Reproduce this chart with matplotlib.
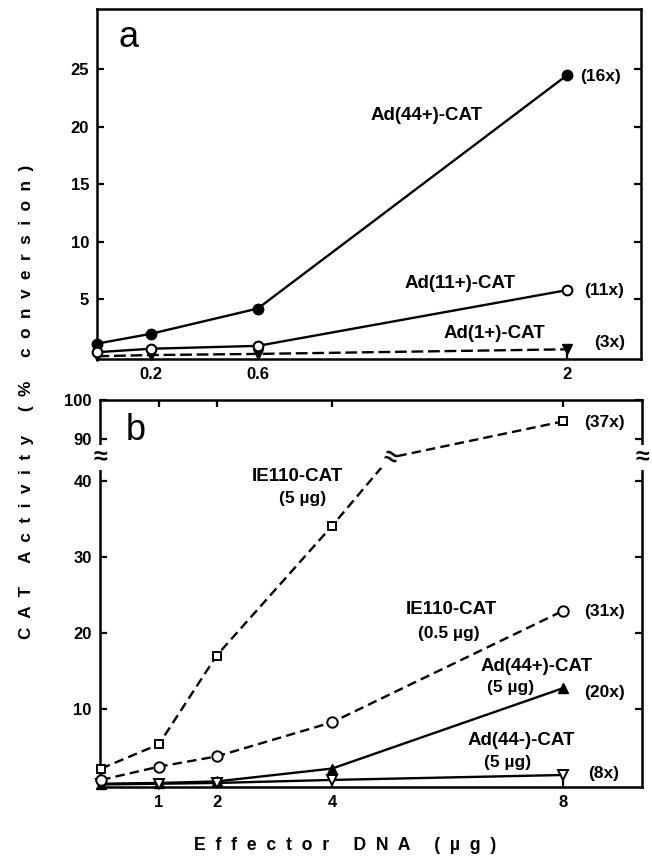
import numpy as np
import matplotlib
matplotlib.use("Agg")
import matplotlib.pyplot as plt

plt.rcParams['font.family'] = ['Liberation Sans', 'DejaVu Sans']
plt.rcParams['font.weight'] = 'bold'

# --- panel a: effector DNA (ug) vs % conversion ---
dose_a = [0, 0.2, 0.6, 2]
ad44p_a = [1.15, 2.0, 4.2, 24.5]
ad11p_a = [0.4, 0.7, 0.95, 5.8]
ad1p_a = [0.05, 0.15, 0.25, 0.65]
fold_a = ["(16x)", "(11x)", "(3x)"]

# --- panel b ---
dose_b = [0, 1, 2, 4, 8]
ie110_5 = [2.1, 5.3, 17.0, 34.1, 94.4]
ie110_05 = [0.6, 2.35, 3.7, 8.2, 22.9]
ad44p_b = [0.1, 0.2, 0.4, 2.1, 12.7]
ad44m_b = [0.0, 0.1, 0.2, 0.6, 1.25]
fold_b = ["(37x)", "(31x)", "(20x)", "(8x)"]

ticks_a_x = [0.2, 0.6, 2]
ticks_a_y = [5, 10, 15, 20, 25]
ticks_b_x = [1, 2, 4, 8]
ticks_b_y = [10, 20, 30, 40, 90, 100]

# axis break in panel b (y between lo and hi is skipped, top part compressed)
lo, hi, k = 43.1, 85.1, 0.514
break_x = 5.0

# panel a x axis is stretched differently after 0.6
K = 0.8265


def fwd_a(x):
    x = np.asarray(x, float)
    return np.where(x <= 0.6, x, 0.6 + (x - 0.6) * K)


def inv_a(t):
    t = np.asarray(t, float)
    return np.where(t <= 0.6, t, 0.6 + (t - 0.6) / K)


def fwd_b(y):
    y = np.asarray(y, float)
    return np.where(y <= lo, y, np.where(y >= hi, lo + (y - hi) * k, lo))


def inv_b(t):
    t = np.asarray(t, float)
    return np.where(t <= lo, t, hi + (t - lo) / k)


fig = plt.figure(figsize=(6.52, 8.57), dpi=100)
ax_a = fig.add_axes([0.1495, 0.581, 0.8336, 0.409])
ax_b = fig.add_axes([0.1534, 0.0817, 0.8313, 0.452])

lw = 1.7
for ax in (ax_a, ax_b):
    for s in ax.spines.values():
        s.set_linewidth(1.8)
    ax.tick_params(direction='in', length=5, width=1.6, labelsize=12,
                   pad=6, right=True)

# --- panel a ---
ax_a.set_xscale('function', functions=(fwd_a, inv_a))
ax_a.plot(dose_a, ad44p_a, '-', color='k', lw=lw, marker='o', ms=7.5,
          mfc='k', mec='k', clip_on=False, zorder=3)
ax_a.plot(dose_a, ad11p_a, '-', color='k', lw=lw, marker='o', ms=7,
          mfc='white', mec='k', mew=1.5, clip_on=False, zorder=4)
ax_a.plot(dose_a, ad1p_a, color='k', lw=lw, ls=(0, (5, 2)), marker='v',
          ms=7, mfc='k', mec='k', clip_on=False, zorder=2)
ax_a.set_xlim(0, 2.335)
ax_a.set_ylim(-0.2, 30.3)
ax_a.set_xticks(ticks_a_x)
ax_a.set_xticklabels([str(t) for t in ticks_a_x])
ax_a.set_yticks(ticks_a_y)
ax_a.minorticks_off()

ax_a.text(0.058, 0.917, "a", transform=ax_a.transAxes, fontsize=26,
          fontweight='normal', ha='center', va='center')
ax_a.text(0.606, 0.696, "Ad(44+)-CAT", transform=ax_a.transAxes,
          fontsize=13.5, ha='center', va='center')
ax_a.text(0.667, 0.217, "Ad(11+)-CAT", transform=ax_a.transAxes,
          fontsize=13.5, ha='center', va='center')
ax_a.text(0.731, 0.074, "Ad(1+)-CAT", transform=ax_a.transAxes,
          fontsize=13.5, ha='center', va='center')
for (fx, fy), lab in zip([(0.888, 0.807), (0.895, 0.197), (0.914, 0.048)], fold_a):
    ax_a.text(fx, fy, lab, transform=ax_a.transAxes, fontsize=12.5,
              ha='left', va='center')

# --- panel b ---
ax_b.set_yscale('function', functions=(fwd_b, inv_b))
dash = (0, (4, 2.2))
# IE110 5ug line goes through the break
line_x = np.insert(np.array(dose_b, float), 4, [break_x, break_x])
line_y = np.insert(np.array(ie110_5, float), 4, [lo, hi])
ax_b.plot(line_x, line_y, color='k', lw=lw, ls=dash, zorder=2)
ax_b.plot(dose_b, ie110_5, ls='none', marker='s', ms=6, mfc='white',
          mec='k', mew=1.4, clip_on=False, zorder=4)
ax_b.plot(dose_b, ie110_05, color='k', lw=lw, ls=dash, marker='o', ms=7.5,
          mfc='white', mec='k', mew=1.4, clip_on=False, zorder=4)
ax_b.plot(dose_b, ad44p_b, '-', color='k', lw=lw, marker='^', ms=7.5,
          mfc='k', mec='k', clip_on=False, zorder=3)
ax_b.plot(dose_b, ad44m_b, '-', color='k', lw=lw, marker='v', ms=7.5,
          mfc='white', mec='k', mew=1.4, clip_on=False, zorder=3)
ax_b.set_xlim(-0.02, 9.37)
ax_b.set_ylim(-0.33, 100)
ax_b.set_xticks(ticks_b_x)
ax_b.set_yticks(ticks_b_y)
ax_b.set_yticklabels([str(t) for t in ticks_b_y])
ax_b.minorticks_off()
ax_b.tick_params(top=True)

# break marks
for xa in (0, 1):
    ax_b.text(xa, lo, "≈", transform=ax_b.get_yaxis_transform(), fontsize=18,
              ha='center', va='center',
              bbox=dict(fc='white', ec='none', pad=0.5), zorder=5)
ax_b.text(break_x, lo, "≈", fontsize=18, ha='center', va='center',
          rotation=-20, bbox=dict(fc='white', ec='none', pad=0.3), zorder=5)

ax_b.text(0.065, 0.921, "b", transform=ax_b.transAxes, fontsize=26,
          fontweight='normal', ha='center', va='center')
labels_b = [
    (0.365, 0.801, "IE110-CAT", 13.5), (0.373, 0.746, "(5 µg)", 12.5),
    (0.648, 0.457, "IE110-CAT", 13.5), (0.644, 0.397, "(0.5 µg)", 12.5),
    (0.806, 0.310, "Ad(44+)-CAT", 13.5), (0.758, 0.256, "(5 µg)", 12.5),
    (0.777, 0.121, "Ad(44-)-CAT", 13.5), (0.751, 0.064, "(5 µg)", 12.5),
]
for fx, fy, lab, fs in labels_b:
    ax_b.text(fx, fy, lab, transform=ax_b.transAxes, fontsize=fs,
              ha='center', va='center')
for (fx, fy), lab in zip([(0.893, 0.942), (0.893, 0.452), (0.893, 0.245),
                          (0.900, 0.036)], fold_b):
    ax_b.text(fx, fy, lab, transform=ax_b.transAxes, fontsize=12.5,
              ha='left', va='center')

# --- shared axis labels, letter spaced ---
def spaced(s):
    return "     ".join("  ".join(w) for w in s.split(" "))


fig.text(27 / 652, 1 - 402 / 857, spaced("CAT Activity (% conversion)"),
         rotation=90, fontsize=12.3, ha='center', va='center')
fig.text(345 / 652, 1 - 845 / 857, spaced("Effector DNA (µg)"),
         fontsize=12.7, ha='center', va='center')

fig.savefig("out.png", dpi=100)
